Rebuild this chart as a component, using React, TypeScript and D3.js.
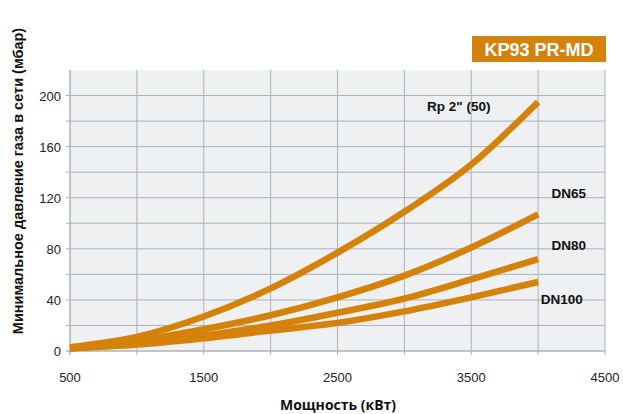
import { useEffect, useRef } from 'react';
import * as d3 from 'd3';

const width = 623;
const height = 414;
const margin = { top: 70, right: 18, bottom: 63, left: 70 };

const power = [500, 1000, 1500, 2000, 2500, 3000, 3500, 4000];
const rp50 = [3, 11, 27, 49, 77, 109, 146, 195];
const dn65 = [2, 8, 17, 28, 42, 59, 81, 107];
const dn80 = [2, 6, 12, 20, 30, 41, 56, 72];
const dn100 = [2, 5, 10, 16, 22, 31, 42, 54];

const seriesNames = ['Rp 2" (50)', 'DN65', 'DN80', 'DN100'];
const seriesValues = [rp50, dn65, dn80, dn100];
const labelPos = [
  { x: 3170, y: 188 },
  { x: 4100, y: 120 },
  { x: 4100, y: 79 },
  { x: 4020, y: 37 },
];

const xTicks = [500, 1500, 2500, 3500, 4500];
const yTicks = [0, 40, 80, 120, 160, 200];

const orange = '#d4820a';
const gridColor = '#aab3bb';

function drawChart(node: SVGSVGElement) {
  const svg = d3.select(node);
  svg.selectAll('*').remove();

  const x = d3.scaleLinear().domain([500, 4500]).range([margin.left, width - margin.right]);
  const y = d3.scaleLinear().domain([0, 220]).range([height - margin.bottom, margin.top]);

  // plot background
  svg.append('rect')
    .attr('x', x(500))
    .attr('y', y(220))
    .attr('width', x(4500) - x(500))
    .attr('height', y(0) - y(220))
    .attr('fill', '#eff0f2');

  // grid
  svg.append('g')
    .selectAll('line')
    .data(d3.range(1000, 4501, 500))
    .join('line')
    .attr('x1', d => x(d)).attr('x2', d => x(d))
    .attr('y1', y(220)).attr('y2', y(0) + 4)
    .attr('stroke', gridColor).attr('stroke-width', 1);

  svg.append('g')
    .selectAll('line')
    .data(d3.range(20, 201, 20))
    .join('line')
    .attr('x1', x(500) - 4).attr('x2', x(4500))
    .attr('y1', d => y(d)).attr('y2', d => y(d))
    .attr('stroke', gridColor).attr('stroke-width', 1);

  // axes lines
  svg.append('line')
    .attr('x1', x(500)).attr('x2', x(500))
    .attr('y1', y(220)).attr('y2', y(0) + 4)
    .attr('stroke', gridColor).attr('stroke-width', 1.5);
  svg.append('line')
    .attr('x1', x(500) - 4).attr('x2', x(4500))
    .attr('y1', y(0)).attr('y2', y(0))
    .attr('stroke', gridColor).attr('stroke-width', 1.5);

  // tick labels
  svg.append('g')
    .selectAll('text')
    .data(xTicks)
    .join('text')
    .attr('x', d => x(d))
    .attr('y', y(0) + 31)
    .attr('text-anchor', 'middle')
    .attr('font-family', 'Liberation Sans, Arial, sans-serif')
    .attr('font-size', 13)
    .attr('fill', '#222')
    .text(d => d);

  svg.append('g')
    .selectAll('text')
    .data(yTicks)
    .join('text')
    .attr('x', x(500) - 9)
    .attr('y', d => y(d) + 5)
    .attr('text-anchor', 'end')
    .attr('font-family', 'Liberation Sans, Arial, sans-serif')
    .attr('font-size', 13)
    .attr('fill', '#222')
    .text(d => d);

  // curves
  const line = d3.line<number>()
    .x((d, i) => x(power[i]))
    .y(d => y(d))
    .curve(d3.curveMonotoneX);

  svg.append('g')
    .selectAll('path')
    .data(seriesValues)
    .join('path')
    .attr('d', d => line(d))
    .attr('fill', 'none')
    .attr('stroke', orange)
    .attr('stroke-width', 6.5);

  // series labels
  svg.append('g')
    .selectAll('text')
    .data(seriesNames)
    .join('text')
    .attr('x', (d, i) => x(labelPos[i].x))
    .attr('y', (d, i) => y(labelPos[i].y))
    .attr('font-family', 'Liberation Sans, Arial, sans-serif')
    .attr('font-weight', 'bold')
    .attr('font-size', 13.5)
    .attr('fill', '#111')
    .text(d => d);

  // title badge
  svg.append('rect')
    .attr('x', 472).attr('y', 36)
    .attr('width', 134).attr('height', 26)
    .attr('fill', orange);
  svg.append('text')
    .attr('x', 539).attr('y', 55.5)
    .attr('text-anchor', 'middle')
    .attr('font-family', 'Liberation Sans, Arial, sans-serif')
    .attr('font-weight', 'bold')
    .attr('font-size', 18)
    .attr('fill', '#fff')
    .text('KP93 PR-MD');

  // axis titles
  svg.append('text')
    .attr('x', 338).attr('y', 410)
    .attr('text-anchor', 'middle')
    .attr('font-family', '"Open Sans", "DejaVu Sans", sans-serif')
    .attr('font-weight', 'bold')
    .attr('font-size', 14)
    .attr('fill', '#111')
    .text('Мощность (кВт)');

  svg.append('text')
    .attr('transform', 'translate(23,181) rotate(-90)')
    .attr('text-anchor', 'middle')
    .attr('font-family', 'Liberation Sans, Arial, sans-serif')
    .attr('font-weight', 'bold')
    .attr('font-size', 14.5)
    .attr('fill', '#111')
    .text('Минимальное давление газа в сети (мбар)');
}

export default function App() {
  const ref = useRef<SVGSVGElement>(null);
  useEffect(() => {
    if (ref.current) drawChart(ref.current);
  }, []);
  return (
    <svg
      ref={ref}
      width={width}
      height={height}
      style={{ position: 'absolute', left: 0, top: 0, background: '#fff' }}
    />
  );
}
